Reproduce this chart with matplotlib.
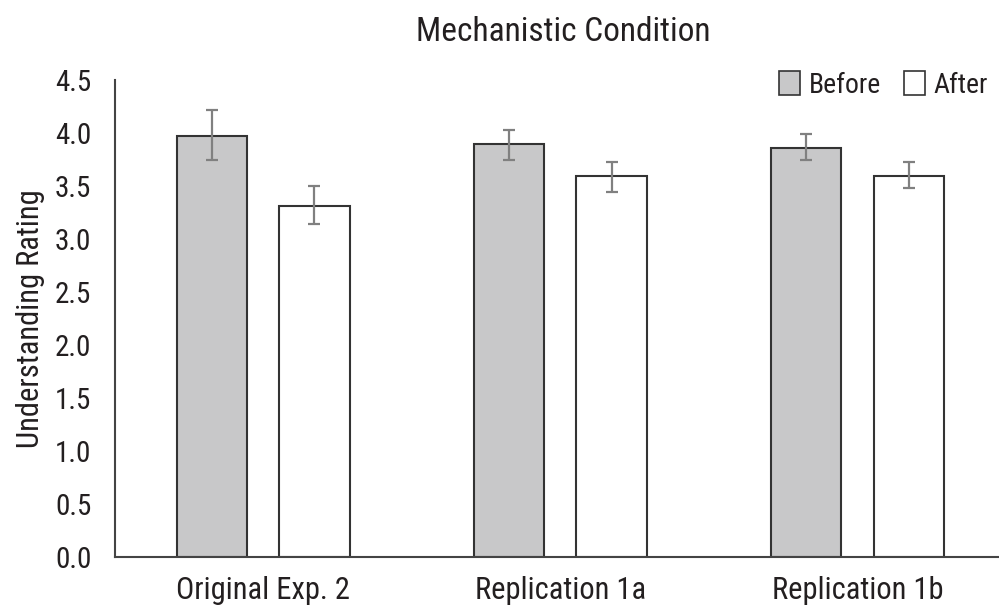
import matplotlib
matplotlib.use("Agg")
import matplotlib.pyplot as plt
from matplotlib.patches import Patch

plt.rcParams['font.family'] = ['Roboto Condensed', 'Liberation Sans', 'DejaVu Sans']

categories = ["Original Exp. 2", "Replication 1a", "Replication 1b"]
before = [3.97, 3.90, 3.86]
before_lo = [3.75, 3.75, 3.75]
before_hi = [4.22, 4.03, 3.99]
after = [3.31, 3.59, 3.59]
after_lo = [3.14, 3.44, 3.48]
after_hi = [3.50, 3.73, 3.73]
yticks = [0.0, 0.5, 1.0, 1.5, 2.0, 2.5, 3.0, 3.5, 4.0, 4.5]

txt = '#231f20'
fig = plt.figure(figsize=(9.99, 6.12), dpi=100)
ax = fig.add_axes([0.115, 1 - 557/612, 0.892, (557 - 80)/612])

x = list(range(len(categories)))
off = 0.172
w = 0.236
xb = [i - off for i in x]
xa = [i + off for i in x]
ax.bar(xb, before, width=w, color='#c8c8c9', edgecolor='#333333', linewidth=1.5, zorder=2)
ax.bar(xa, after, width=w, color='white', edgecolor='#333333', linewidth=1.5, zorder=2)
ax.errorbar(xb, before, yerr=[[b - l for b, l in zip(before, before_lo)], [h - b for b, h in zip(before, before_hi)]],
            fmt='none', ecolor='#808080', elinewidth=1.6, capsize=4.5, capthick=1.6, zorder=3)
ax.errorbar(xa, after, yerr=[[a - l for a, l in zip(after, after_lo)], [h - a for a, h in zip(after, after_hi)]],
            fmt='none', ecolor='#808080', elinewidth=1.6, capsize=4.5, capthick=1.6, zorder=3)

ax.set_xlim(-0.5, 2.5)
ax.set_ylim(0, 4.5)
ax.set_yticks(yticks)
ax.set_yticklabels([f"{v:.1f}" for v in yticks], fontsize=21, color=txt)
ax.set_xticks(x)
ax.set_xticklabels(categories, fontsize=22, color=txt)
ax.tick_params(axis='both', length=0)
ax.tick_params(axis='y', pad=17)
ax.tick_params(axis='x', pad=14)
for s in ['top', 'right']:
    ax.spines[s].set_visible(False)
for s in ['left', 'bottom']:
    ax.spines[s].set_color('#444444')
    ax.spines[s].set_linewidth(1.5)

ax.set_ylabel("Understanding Rating", fontsize=22, color=txt)
ax.yaxis.set_label_coords(-0.078, 0.5)
fig.text(0.564, 1 - 32/612, "Mechanistic Condition", ha='center', va='center', fontsize=24, color=txt)

handles = [Patch(facecolor='#c8c8c9', edgecolor='#333333', linewidth=1.2, label='Before'),
           Patch(facecolor='white', edgecolor='#333333', linewidth=1.2, label='After')]
leg = fig.legend(handles=handles, loc='center right', bbox_to_anchor=(1.014, 1 - 85/612), ncol=2,
                 frameon=False, fontsize=20, handlelength=0.75, handleheight=0.9,
                 handletextpad=0.3, columnspacing=0.85, labelcolor=txt)

fig.savefig("out.png", dpi=100)
